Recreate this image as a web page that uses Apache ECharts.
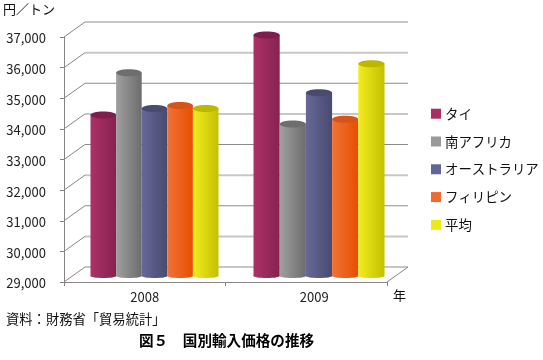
<!DOCTYPE html>
<html>
<head>
<meta charset="utf-8">
<style>
  html, body { margin: 0; padding: 0; background: #fff; }
  #chart { width: 543px; height: 360px; }
</style>
<script src="https://cdn.jsdelivr.net/npm/echarts@6/dist/echarts.min.js"></script>
</head>
<body>
<div id="chart"></div>
<script>
var years = ["2008", "2009"];
var yTicks = [29000, 30000, 31000, 32000, 33000, 34000, 35000, 36000, 37000];
var thai = [34290, 36900];
var southAfrica = [35670, 34000];
var australia = [34500, 35020];
var philippines = [34600, 34150];
var average = [34500, 35960];

var FONT = '"Noto Sans CJK JP"';
var DEPTH_X = 21, DEPTH_Y = 15; // 奥行き
var BAR_LIFT = 5; // 床面上の棒の位置
var barWidths = [25.6, 26.2];
var yearShift = [9.75, 12.75];
var axisColor = "#888484";

var barStyles = [
  { name: "タイ", data: thai, legend: "#a92e63", left: "#ad3067", right: "#85234f", cap: "#7f1e4b", idx: 0 },
  { name: "南アフリカ", data: southAfrica, legend: "#999999", left: "#a0a0a0", right: "#6c6c6c", cap: "#6e6e6e", idx: 1 },
  { name: "オーストラリア", data: australia, legend: "#62659a", left: "#666899", right: "#494a70", cap: "#484a70", idx: 2 },
  { name: "フィリピン", data: philippines, legend: "#ee6a30", left: "#f07238", right: "#e64f00", cap: "#d4541a", idx: 3 },
  { name: "平均", data: average, legend: "#eeea18", left: "#f2ec20", right: "#c4c000", cap: "#bcb800", idx: 4 }
];

// 奥の壁と左側面の目盛線
function renderWall(params, api) {
  var v = api.value(0);
  var p = api.coord([0, v]);
  var end = api.coord([1, v]);
  var x0 = params.coordSys.x;
  var x1 = x0 + params.coordSys.width;
  var i = params.dataIndex;
  var thick = i % 2 === 1;
  var children = [
    {
      type: "line",
      shape: { x1: x0 + DEPTH_X, y1: p[1] - DEPTH_Y, x2: x1 + DEPTH_X, y2: end[1] - DEPTH_Y },
      style: { stroke: thick ? "#cac6c6" : "#8f8b8b", lineWidth: thick ? 2 : 1 }
    },
    {
      type: "line",
      shape: { x1: x0, y1: p[1], x2: x0 + DEPTH_X, y2: p[1] - DEPTH_Y },
      style: { stroke: axisColor, lineWidth: 1 }
    }
  ];
  if (i === 0) {
    children.push({
      type: "line",
      shape: { x1: x1, y1: p[1], x2: x1 + DEPTH_X, y2: p[1] - DEPTH_Y },
      style: { stroke: axisColor, lineWidth: 1 }
    });
  }
  return { type: "group", children: children };
}

function makeBarRenderer(st) {
  return function (params, api) {
    var cat = api.value(0);
    var top = api.coord([cat, api.value(1)]);
    var base = api.coord([cat, yTicks[0]]);
    var w = barWidths[cat];
    var x = top[0] + yearShift[cat] + (st.idx - 2.5) * w;
    var yTop = top[1] - BAR_LIFT;
    var yBase = base[1] - BAR_LIFT;
    var grad = new echarts.graphic.LinearGradient(0, 0, 1, 0, [
      { offset: 0, color: st.left },
      { offset: 1, color: st.right }
    ]);
    return {
      type: "group",
      children: [
        { type: "ellipse", shape: { cx: x + w / 2, cy: yBase - 1, rx: w / 2, ry: 2 }, style: { fill: grad } },
        { type: "rect", shape: { x: x, y: yTop, width: w, height: yBase - yTop - 1 }, style: { fill: grad } },
        { type: "ellipse", shape: { cx: x + w / 2, cy: yTop, rx: w / 2, ry: 3.5 }, style: { fill: st.cap } }
      ]
    };
  };
}

var series = [{
  type: "custom",
  name: "wall",
  silent: true,
  z: 1,
  data: yTicks.map(function (t) { return [t]; }),
  encode: { y: 0 },
  renderItem: renderWall
}];
barStyles.forEach(function (st, k) {
  series.push({
    type: "custom",
    name: st.name,
    z: 2 + k,
    itemStyle: { color: st.legend },
    data: st.data.map(function (v, i) { return [i, v]; }),
    encode: { x: 0, y: 1 },
    renderItem: makeBarRenderer(st)
  });
});

var chart = echarts.init(document.getElementById("chart"), null, { renderer: "canvas" });
chart.setOption({
  animation: false,
  backgroundColor: "#fff",
  textStyle: { fontFamily: FONT },
  title: [
    { text: "資料：財務省「貿易統計」", left: 1, top: 307, textStyle: { fontFamily: FONT, fontSize: 13.3, fontWeight: "normal", color: "#111" } },
    { text: "図５　国別輸入価格の推移", left: 134, top: 328, textStyle: { fontFamily: FONT, fontSize: 14.6, fontWeight: "bold", color: "#000" } },
    { text: "年", left: 388, top: 284, textStyle: { fontFamily: FONT, fontSize: 13, fontWeight: "normal", color: "#111" } }
  ],
  legend: {
    left: 426,
    top: 102,
    orient: "vertical",
    icon: "rect",
    itemWidth: 10,
    itemHeight: 10,
    itemGap: 14.4,
    data: barStyles.map(function (s) { return s.name; }),
    textStyle: { fontFamily: FONT, fontSize: 13.4, color: "#111", padding: [0, 0, 0, -1] }
  },
  grid: { left: 62, top: 37, width: 325, height: 245 },
  xAxis: {
    type: "category",
    data: years,
    axisLine: { lineStyle: { color: axisColor, width: 1 } },
    axisTick: { show: true, length: 4, lineStyle: { color: axisColor } },
    axisLabel: {
      fontFamily: FONT, fontSize: 13, color: "#222", margin: 9,
      formatter: function (v) { return v === years[1] ? "{b|" + v + "}" : v; },
      rich: { b: { fontFamily: FONT, fontSize: 13, color: "#222", padding: [0, 0, 0, 16] } }
    },
    splitLine: { show: false }
  },
  yAxis: {
    type: "value",
    min: 29000,
    max: 37000,
    interval: 1000,
    name: "円／トン",
    nameLocation: "end",
    nameGap: 21,
    nameTextStyle: { fontFamily: FONT, fontSize: 13, color: "#111", align: "left", padding: [0, 0, 0, -61] },
    axisLine: { show: true, lineStyle: { color: axisColor, width: 1 } },
    axisTick: { show: true, length: 4, lineStyle: { color: axisColor } },
    axisLabel: {
      fontFamily: FONT, fontSize: 13, color: "#222", margin: 18,
      formatter: function (v) { return "{a|" + v.toLocaleString("en-US") + "}"; },
      rich: { a: { fontFamily: FONT, fontSize: 13, color: "#222", padding: [3, 0, 0, 0] } }
    },
    splitLine: { show: false }
  },
  series: series
});
</script>
</body>
</html>
